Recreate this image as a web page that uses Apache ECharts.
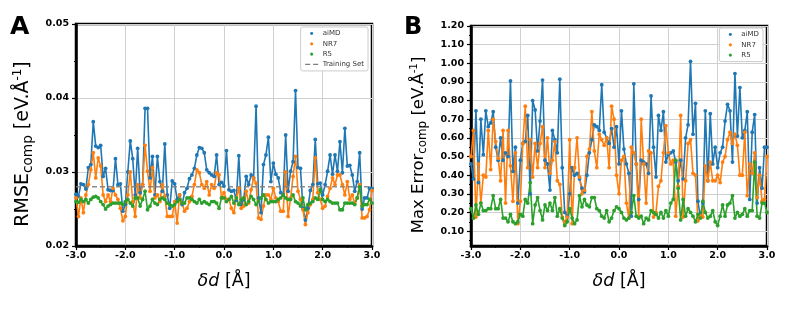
<!DOCTYPE html>
<html>
<head>
<meta charset="utf-8">
<script src="https://cdn.jsdelivr.net/npm/echarts@6/dist/echarts.min.js"></script>
<style>
html,body{margin:0;padding:0;background:#fff;}
#c{width:789px;height:316px;}
</style>
</head>
<body>
<div id="c"></div>
<script>
// ---- data ----
const xValues = [-3.00,-2.95,-2.90,-2.85,-2.80,-2.75,-2.70,-2.65,-2.60,-2.55,-2.50,-2.45,-2.40,-2.35,-2.30,-2.25,-2.20,-2.15,-2.10,-2.05,
-2.00,-1.95,-1.90,-1.85,-1.80,-1.75,-1.70,-1.65,-1.60,-1.55,-1.50,-1.45,-1.40,-1.35,-1.30,-1.25,-1.20,-1.15,-1.10,-1.05,
-1.00,-0.95,-0.90,-0.85,-0.80,-0.75,-0.70,-0.65,-0.60,-0.55,-0.50,-0.45,-0.40,-0.35,-0.30,-0.25,-0.20,-0.15,-0.10,-0.05,
0.00,0.05,0.10,0.15,0.20,0.25,0.30,0.35,0.40,0.45,0.50,0.55,0.60,0.65,0.70,0.75,0.80,0.85,0.90,0.95,
1.00,1.05,1.10,1.15,1.20,1.25,1.30,1.35,1.40,1.45,1.50,1.55,1.60,1.65,1.70,1.75,1.80,1.85,1.90,1.95,
2.00,2.05,2.10,2.15,2.20,2.25,2.30,2.35,2.40,2.45,2.50,2.55,2.60,2.65,2.70,2.75,2.80,2.85,2.90,2.95,3.00];

const rmseAiMD = [0.0270,0.0267,0.0284,0.0283,0.0277,0.0306,0.0310,0.0368,0.0335,0.0333,0.0336,0.0294,0.0305,0.0276,0.0275,0.0275,0.0318,0.0283,0.0284,0.0247,
0.0256,0.0300,0.0342,0.0318,0.0269,0.0332,0.0272,0.0283,0.0386,0.0386,0.0292,0.0321,0.0269,0.0321,0.0287,0.0274,0.0338,0.0269,0.0251,0.0288,
0.0284,0.0263,0.0269,0.0256,0.0272,0.0278,0.0291,0.0296,0.0305,0.0323,0.0333,0.0332,0.0326,0.0303,0.0299,0.0296,0.0294,0.0323,0.0283,0.0286,
0.0281,0.0329,0.0276,0.0274,0.0275,0.0262,0.0322,0.0256,0.0263,0.0294,0.0283,0.0296,0.0292,0.0389,0.0265,0.0245,0.0310,0.0323,0.0347,0.0287,
0.0312,0.0297,0.0292,0.0272,0.0269,0.0350,0.0274,0.0301,0.0314,0.0410,0.0306,0.0305,0.0251,0.0235,0.0251,0.0275,0.0283,0.0344,0.0284,0.0285,
0.0269,0.0283,0.0301,0.0323,0.0297,0.0323,0.0301,0.0341,0.0299,0.0359,0.0308,0.0309,0.0296,0.0274,0.0287,0.0326,0.0250,0.0265,0.0265,0.0278,0.0278];

const rmseNR7 = [0.0265,0.0240,0.0265,0.0245,0.0269,0.0283,0.0303,0.0326,0.0292,0.0319,0.0308,0.0269,0.0260,0.0269,0.0260,0.0278,0.0269,0.0263,0.0251,0.0234,
0.0240,0.0269,0.0300,0.0260,0.0240,0.0283,0.0265,0.0283,0.0336,0.0301,0.0274,0.0306,0.0265,0.0269,0.0260,0.0283,0.0267,0.0240,0.0240,0.0240,
0.0260,0.0231,0.0269,0.0258,0.0247,0.0251,0.0260,0.0267,0.0283,0.0303,0.0299,0.0283,0.0278,0.0287,0.0269,0.0283,0.0278,0.0299,0.0296,0.0265,
0.0272,0.0263,0.0263,0.0251,0.0245,0.0265,0.0278,0.0251,0.0254,0.0274,0.0258,0.0276,0.0292,0.0285,0.0238,0.0236,0.0254,0.0269,0.0269,0.0263,
0.0278,0.0265,0.0260,0.0247,0.0247,0.0300,0.0240,0.0265,0.0294,0.0321,0.0274,0.0263,0.0249,0.0229,0.0245,0.0256,0.0263,0.0319,0.0272,0.0263,
0.0251,0.0254,0.0267,0.0278,0.0292,0.0283,0.0296,0.0296,0.0283,0.0269,0.0287,0.0263,0.0269,0.0258,0.0265,0.0283,0.0238,0.0238,0.0240,0.0249,0.0275];

const rmseR5 = [0.0260,0.0259,0.0263,0.0260,0.0263,0.0258,0.0263,0.0266,0.0267,0.0265,0.0260,0.0256,0.0250,0.0254,0.0256,0.0258,0.0258,0.0258,0.0258,0.0256,
0.0260,0.0263,0.0258,0.0254,0.0265,0.0265,0.0254,0.0263,0.0274,0.0249,0.0254,0.0263,0.0258,0.0256,0.0263,0.0265,0.0263,0.0258,0.0256,0.0254,
0.0256,0.0260,0.0263,0.0258,0.0258,0.0265,0.0265,0.0263,0.0260,0.0258,0.0263,0.0258,0.0260,0.0258,0.0256,0.0260,0.0260,0.0258,0.0251,0.0265,
0.0265,0.0260,0.0263,0.0267,0.0258,0.0265,0.0256,0.0263,0.0265,0.0256,0.0260,0.0267,0.0263,0.0256,0.0260,0.0265,0.0269,0.0263,0.0258,0.0260,
0.0260,0.0260,0.0263,0.0265,0.0269,0.0265,0.0263,0.0263,0.0269,0.0260,0.0258,0.0254,0.0265,0.0249,0.0256,0.0258,0.0260,0.0265,0.0263,0.0276,
0.0263,0.0260,0.0263,0.0260,0.0258,0.0258,0.0258,0.0249,0.0249,0.0258,0.0258,0.0258,0.0258,0.0256,0.0265,0.0280,0.0254,0.0256,0.0256,0.0263,0.0258];

const trainingSetRMSE = 0.028;

const maxAiMD = [0.46,0.38,0.745,0.36,0.70,0.51,0.745,0.66,0.68,0.74,0.55,0.48,0.60,0.48,0.52,0.50,0.905,0.42,0.55,0.25,
0.48,0.57,0.58,0.72,0.30,0.80,0.75,0.53,0.69,0.91,0.48,0.46,0.32,0.64,0.59,0.52,0.915,0.44,0.20,0.18,
0.30,0.44,0.40,0.41,0.38,0.33,0.31,0.40,0.52,0.59,0.67,0.66,0.64,0.885,0.63,0.60,0.57,0.65,0.55,0.66,
0.46,0.745,0.54,0.46,0.41,0.18,0.89,0.46,0.27,0.48,0.47,0.46,0.41,0.825,0.55,0.39,0.72,0.64,0.74,0.47,
0.51,0.52,0.53,0.47,0.37,0.48,0.38,0.60,0.67,1.01,0.62,0.785,0.26,0.175,0.25,0.745,0.37,0.73,0.46,0.55,
0.44,0.52,0.55,0.69,0.78,0.745,0.47,0.945,0.61,0.87,0.60,0.64,0.74,0.27,0.63,0.725,0.25,0.44,0.33,0.55,0.55];

const maxNR7 = [0.50,0.64,0.175,0.46,0.25,0.40,0.39,0.64,0.43,0.70,0.58,0.49,0.37,0.64,0.25,0.64,0.45,0.26,0.52,0.14,
0.26,0.57,0.77,0.44,0.59,0.39,0.57,0.44,0.57,0.66,0.44,0.60,0.41,0.48,0.58,0.37,0.35,0.175,0.15,0.175,
0.59,0.14,0.44,0.60,0.39,0.30,0.32,0.50,0.54,0.74,0.53,0.44,0.62,0.59,0.56,0.60,0.44,0.77,0.70,0.40,
0.30,0.48,0.50,0.25,0.17,0.55,0.52,0.46,0.175,0.70,0.46,0.25,0.53,0.52,0.175,0.20,0.34,0.37,0.52,0.665,
0.52,0.46,0.48,0.18,0.34,0.72,0.175,0.37,0.57,0.59,0.41,0.40,0.155,0.18,0.175,0.45,0.37,0.47,0.37,0.37,
0.40,0.36,0.47,0.50,0.59,0.63,0.57,0.62,0.56,0.40,0.40,0.63,0.29,0.46,0.41,0.52,0.28,0.40,0.26,0.27,0.50];

const maxR5 = [0.22,0.17,0.24,0.19,0.25,0.21,0.21,0.22,0.22,0.29,0.22,0.22,0.27,0.17,0.17,0.15,0.19,0.15,0.14,0.15,
0.19,0.18,0.27,0.25,0.36,0.14,0.24,0.28,0.21,0.16,0.24,0.21,0.25,0.21,0.28,0.18,0.22,0.17,0.13,0.15,
0.22,0.17,0.14,0.16,0.29,0.23,0.27,0.24,0.23,0.28,0.28,0.22,0.21,0.18,0.17,0.21,0.15,0.17,0.21,0.23,
0.22,0.20,0.17,0.16,0.17,0.20,0.29,0.18,0.17,0.18,0.14,0.17,0.16,0.21,0.20,0.19,0.17,0.20,0.17,0.21,
0.18,0.25,0.27,0.48,0.33,0.16,0.27,0.18,0.22,0.20,0.18,0.15,0.19,0.17,0.26,0.20,0.17,0.18,0.21,0.15,
0.13,0.18,0.24,0.18,0.24,0.25,0.29,0.17,0.20,0.18,0.19,0.22,0.18,0.21,0.21,0.47,0.18,0.17,0.25,0.25,0.20];

const rmseTicks = [0.02, 0.03, 0.04, 0.05];
const maxErrTicks = [0.10,0.20,0.30,0.40,0.50,0.60,0.70,0.80,0.90,1.00,1.10,1.20];
const maxErrMinorTicks = [0.05,0.15,0.25,0.35,0.45,0.55,0.65,0.75,0.85,0.95,1.05,1.15];

// ---- styling ----
const FONT = 'DejaVu Sans';
const C_BLUE = '#1f77b4', C_ORANGE = '#ff7f0e', C_GREEN = '#2ca02c', C_GRAY = '#7f7f7f';
const pair = arr => xValues.map((x, i) => [x, arr[i]]);

function yTitleRich(fs) {
  return {
    m: {fontFamily: FONT, fontSize: fs, lineHeight: Math.round(fs * 1.22), color: '#000'},
    sub: {fontFamily: FONT, fontSize: fs * 0.72, lineHeight: Math.round(fs * 0.67), verticalAlign: 'bottom', color: '#000'},
    sup: {fontFamily: FONT, fontSize: fs * 0.62, lineHeight: Math.round(fs * 0.6), verticalAlign: 'top', color: '#000'}
  };
}
const xTitleRich = {
  m: {fontFamily: FONT, fontSize: 17.5, lineHeight: 21, color: '#000'},
  it: {fontFamily: FONT, fontSize: 17.5, lineHeight: 21, fontStyle: 'italic', color: '#000'}
};

function xAxisFor(g) {
  return {
    gridIndex: g, type: 'value', min: -3, max: 3, interval: 1,
    axisLine: {show: true, onZero: false, lineStyle: {color: '#000', width: 2.5}},
    axisTick: {show: true, length: 4, lineStyle: {color: '#000', width: 1.2}},
    minorTick: {show: true, splitNumber: 2, length: 2, lineStyle: {color: '#000', width: 1}},
    axisLabel: {fontFamily: FONT, fontWeight: 'bold', fontSize: 9.5, color: '#000', margin: 5,
      showMinLabel: true, showMaxLabel: true, formatter: v => v.toFixed(1)},
    splitLine: {show: true, lineStyle: {color: '#d0d0d0', width: 1}},
    name: '{it|δd}{m| [Å]}', nameLocation: 'middle', nameGap: 25,
    nameTextStyle: {rich: xTitleRich}
  };
}

const lineSeries = (name, data, color, xi, yi) => ({
  name, type: 'line', xAxisIndex: xi, yAxisIndex: yi, data,
  symbol: 'circle', symbolSize: 3.8, showSymbol: true,
  color, lineStyle: {color, width: 1.6}, itemStyle: {color},
  emphasis: {disabled: true}, animation: false
});

const dotIcon = 'path://M0,0h0.01v0.01h-0.01zM14,6h0.01v0.01h-0.01zM8.6,3L8.13,4.13L7,4.6L5.87,4.13L5.4,3L5.87,1.87L7,1.4L8.13,1.87Z';
const dashIcon = 'path://M0,0h0.01v0.01h-0.01zM14,6h0.01v0.01h-0.01zM0.5,2.4h5v1.2h-5zM8.5,2.4h5v1.2h-5z';

const legendCommon = {
  orient: 'vertical', itemWidth: 14, itemHeight: 6, itemGap: 3.3,
  padding: [3, 4, 3, 4], backgroundColor: '#fff', borderColor: '#cccccc', borderWidth: 1, borderRadius: 2,
  textStyle: {fontFamily: FONT, fontSize: 7, color: '#333', padding: [0, 0, 0, -1]},
  itemStyle: {borderWidth: 0}, selectedMode: false
};

const option = {
  animation: false,
  backgroundColor: '#fff',
  grid: [
    {left: 76, top: 24, width: 296, height: 222, show: true, borderColor: '#000', borderWidth: 2.5, backgroundColor: 'transparent'},
    {left: 471, top: 26, width: 296, height: 220, show: true, borderColor: '#000', borderWidth: 2.5, backgroundColor: 'transparent'}
  ],
  xAxis: [xAxisFor(0), xAxisFor(1)],
  yAxis: [
    {
      gridIndex: 0, type: 'value', min: rmseTicks[0], max: rmseTicks[rmseTicks.length - 1], interval: 0.01,
      axisLine: {show: true, onZero: false, lineStyle: {color: '#000', width: 2.5}},
      axisTick: {show: true, length: 4, lineStyle: {color: '#000', width: 1.2}},
      minorTick: {show: true, splitNumber: 2, length: 2, lineStyle: {color: '#000', width: 1}},
      axisLabel: {fontFamily: FONT, fontWeight: 'bold', fontSize: 9.5, color: '#000', margin: 7,
        showMinLabel: true, showMaxLabel: true, formatter: v => v.toFixed(2)},
      splitLine: {show: true, lineStyle: {color: '#d0d0d0', width: 1}},
      name: '{m|RMSE}{sub|comp}{m| [eV.Å}{sup|-1}{m|]}', nameLocation: 'middle', nameGap: 41,
      nameTextStyle: {rich: yTitleRich(19), padding: [0, 18, 0, 0]}
    },
    {
      gridIndex: 1, type: 'value', min: 0.02, max: 1.2,
      axisLine: {show: true, onZero: false, lineStyle: {color: '#000', width: 2.5}},
      axisTick: {show: true, length: 4, customValues: maxErrTicks, lineStyle: {color: '#000', width: 1.2}},
      axisLabel: {fontFamily: FONT, fontWeight: 'bold', fontSize: 9.5, color: '#000', margin: 7,
        customValues: maxErrTicks, formatter: v => v.toFixed(2)},
      splitLine: {show: true, lineStyle: {color: '#d0d0d0', width: 1}},
      name: '{m|Max Error}{sub|comp}{m| [eV.Å}{sup|-1}{m|]}', nameLocation: 'middle', nameGap: 42,
      nameTextStyle: {rich: yTitleRich(16.5), padding: [0, 18, 0, 0]}
    },
    {
      gridIndex: 1, type: 'value', min: 0.02, max: 1.2, position: 'left',
      axisLine: {show: false, onZero: false},
      axisTick: {show: true, length: 2, customValues: maxErrMinorTicks, lineStyle: {color: '#000', width: 1}},
      axisLabel: {show: false},
      splitLine: {show: false}
    }
  ],
  legend: [
    Object.assign({}, legendCommon, {
      right: 421, top: 27,
      data: [
        {name: 'aiMD', icon: dotIcon},
        {name: 'NR7', icon: dotIcon},
        {name: 'R5', icon: dotIcon},
        {name: 'Training Set', icon: dashIcon}
      ]
    }),
    Object.assign({}, legendCommon, {
      right: 26, top: 28,
      data: [
        {name: 'aiMD', icon: dotIcon},
        {name: 'NR7', icon: dotIcon},
        {name: 'R5', icon: dotIcon}
      ]
    })
  ],
  graphic: [
    {type: 'text', left: 10, top: 15, style: {text: 'A', fontFamily: FONT, fontWeight: 'bold', fontSize: 25, fill: '#000'}},
    {type: 'text', left: 404, top: 16, style: {text: 'B', fontFamily: FONT, fontWeight: 'bold', fontSize: 24, fill: '#000'}}
  ],
  series: [
    lineSeries('aiMD', pair(rmseAiMD), C_BLUE, 0, 0),
    lineSeries('NR7', pair(rmseNR7), C_ORANGE, 0, 0),
    lineSeries('R5', pair(rmseR5), C_GREEN, 0, 0),
    {
      name: 'Training Set', type: 'line', xAxisIndex: 0, yAxisIndex: 0,
      data: [[xValues[0], trainingSetRMSE], [xValues[xValues.length - 1], trainingSetRMSE]],
      symbol: 'none', color: C_GRAY,
      lineStyle: {color: C_GRAY, width: 1.5, type: [5, 3], opacity: 0.9},
      itemStyle: {color: C_GRAY}, emphasis: {disabled: true}
    },
    lineSeries('aiMD', pair(maxAiMD), C_BLUE, 1, 1),
    lineSeries('NR7', pair(maxNR7), C_ORANGE, 1, 1),
    lineSeries('R5', pair(maxR5), C_GREEN, 1, 1)
  ]
};

const chart = echarts.init(document.getElementById('c'), null, {renderer: 'canvas'});
chart.setOption(option);
</script>
</body>
</html>
